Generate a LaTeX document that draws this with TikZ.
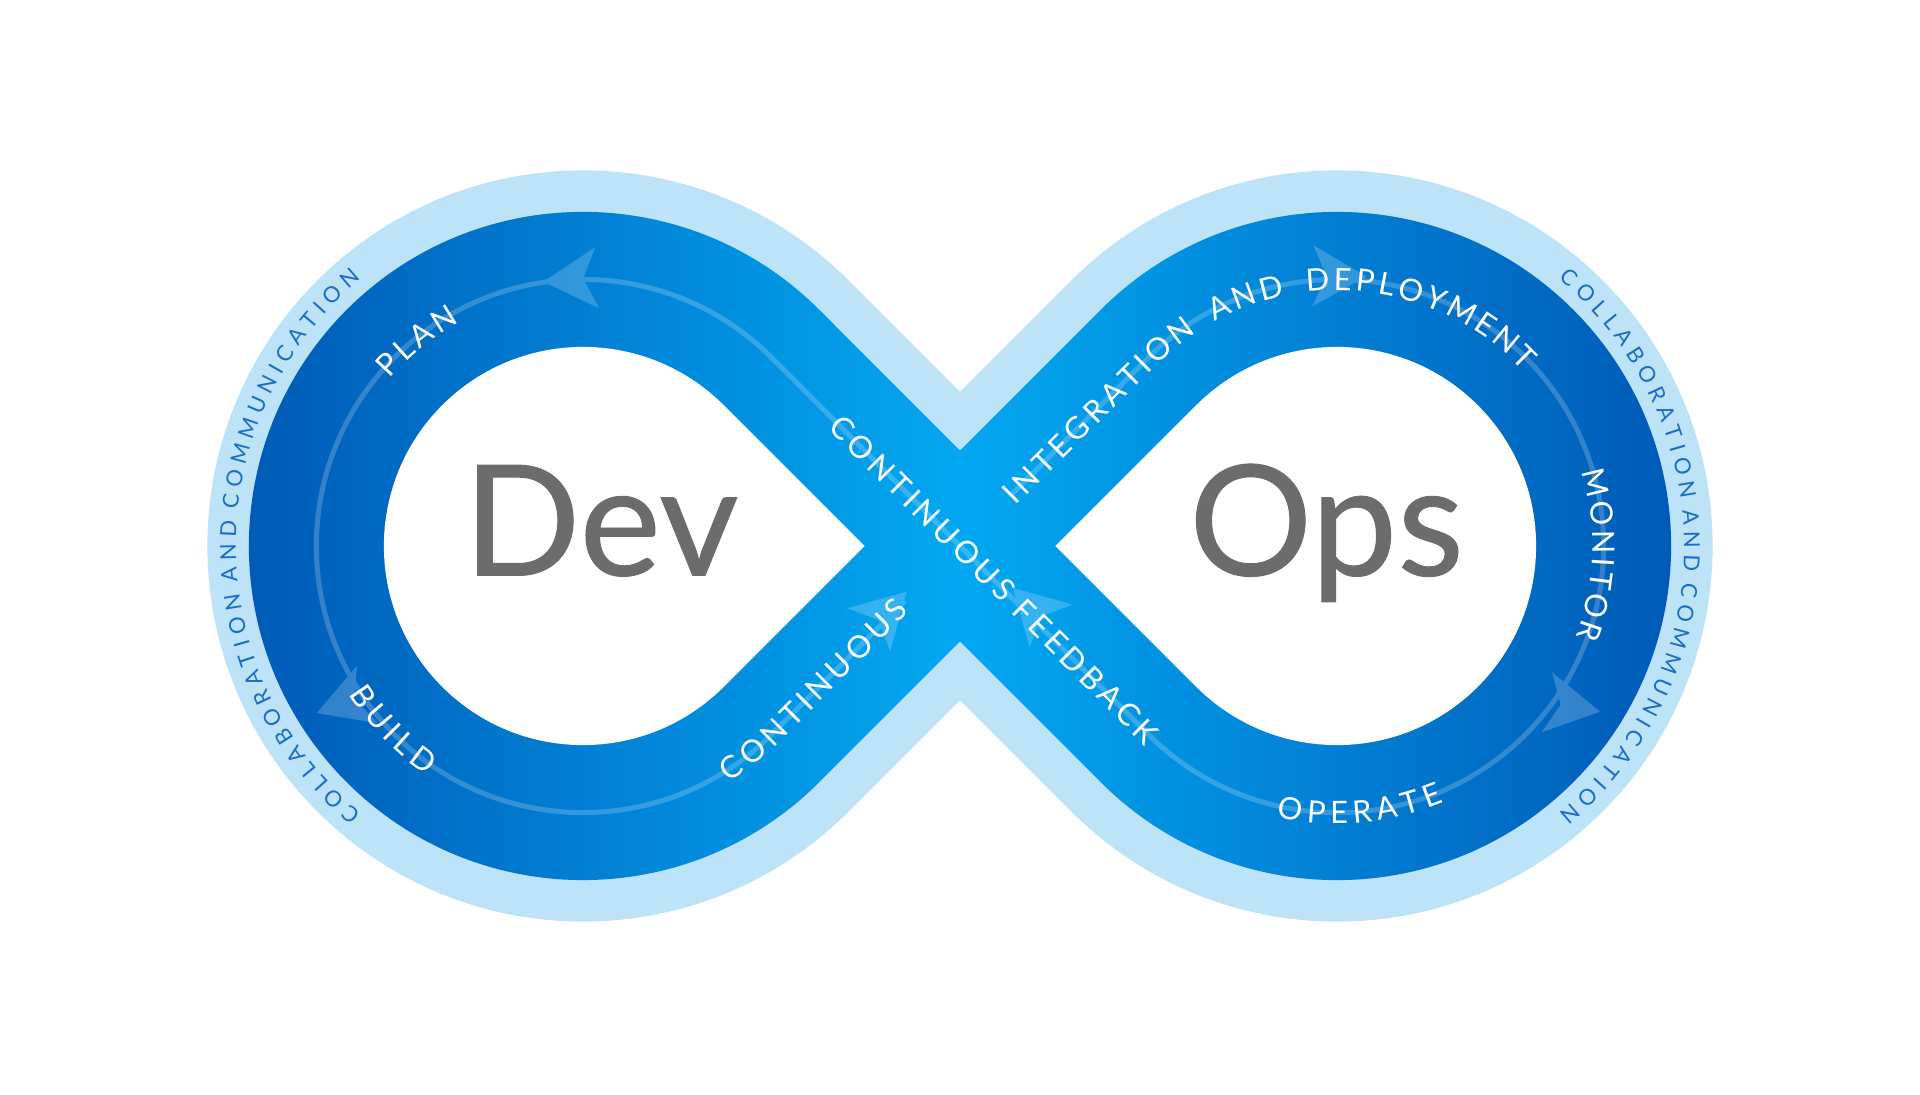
\documentclass[tikz,border=0pt]{standalone}
\usepackage{fontspec}
\setmainfont{Lato}
\usetikzlibrary{decorations.text}
\newfontfamily\stagefont{Lato}
\newfontfamily\collabfont{Lato}
\newfontfamily\wordfont[FakeBold=0.6]{Lato}
\definecolor{bandlight}{RGB}{188,227,248}
\definecolor{banddark}{RGB}{0,87,181}
\definecolor{bandbright}{RGB}{3,168,242}
\definecolor{wordgray}{RGB}{108,108,108}
\definecolor{collabblue}{RGB}{28,108,198}
\newcommand\trackR{266.6}
\newcommand\bandOut{334.1}
\newcommand\bandIn{199.1}
\newcommand\glowOut{375.6}
\newcommand\collabR{355}
\newcommand\tk{\kern2.3pt}% tracking of the stage labels
\newcommand\wk{\kern8pt}% wider word gap
\newcommand\ck{\kern3.3pt}% tracking of the outer ring
\tikzset{
  glow/.style={fill=bandlight},
  band/.style={left color=banddark, right color=banddark, middle color=bandbright},
  hole/.style={fill=white},
  track/.style={draw=white, line width=2.5pt},
  flowhead/.pic={\fill[white] (0,0) -- (-54,30.5) -- (-40,0) -- (-54,-30.5) -- cycle;},
  stagelabel/.style={decorate, decoration={text along path, text align=center,
      raise=-5.5pt, text color=white,
      text={|\stagefont\fontsize{15.4}{18}\selectfont|#1}}},
  collablabel/.style={decorate, decoration={text along path, text align=center,
      raise=-4pt, text color=collabblue,
      text={|\collabfont\fontsize{11}{13}\selectfont|C{\ck}O{\ck}L{\ck}L{\ck}A{\ck}B{\ck}O{\ck}R{\ck}A{\ck}T{\ck}I{\ck}O{\ck}N{\ck} A{\ck}N{\ck}D{\ck} C{\ck}O{\ck}M{\ck}M{\ck}U{\ck}N{\ck}I{\ck}C{\ck}A{\ck}T{\ck}I{\ck}O{\ck}N}}},
  bigword/.style={font=\wordfont\fontsize{77}{77}\selectfont, text=wordgray,
    inner sep=0pt, anchor=base},
}

\begin{document}
\begin{tikzpicture}[x=0.5pt, y=0.5pt]
  \useasboundingbox (-960,-549) rectangle (960,546);
  \fill[white] (-960,-549) rectangle (960,546);
  \coordinate (lc) at (-377,0);
  \coordinate (rc) at (377,0);
  % figure eight: glow, band, holes
  \fill[glow] (0,154.15) -- (111.42,265.58) arc[start angle=135, end angle=-135, radius=\glowOut]
    -- (0,-154.15) -- (-111.42,-265.58) arc[start angle=-45, end angle=-315, radius=\glowOut] -- cycle;
  \shade[band] (0,95.46) -- (140.77,236.23) arc[start angle=135, end angle=-135, radius=\bandOut]
    -- (0,-95.46) -- (-140.77,-236.23) arc[start angle=-45, end angle=-315, radius=\bandOut] -- cycle;
  \fill[hole] (95.46,0) -- (236.23,140.77) arc[start angle=135, end angle=-135, radius=\bandIn] -- cycle;
  \fill[hole] (-95.46,0) -- (-236.23,140.77) arc[start angle=45, end angle=315, radius=\bandIn] -- cycle;
  % track and arrow heads
  \coordinate (nestart) at (50,50);
  \coordinate (swend) at (-55,-55);
  \coordinate (tipTL) at (-416.7,264.3);
  \coordinate (tipTR) at (406.7,269.3);
  \coordinate (tipBL) at (-643.3,-167);
  \coordinate (tipBR) at (640,-165.7);
  \coordinate (tipSW) at (-53.3,-45.7);
  \coordinate (tipSE) at (53,-42);
  \begin{scope}[transparency group, opacity=0.2]
    \draw[track] (nestart) -- (188.5,188.5) arc[start angle=135, end angle=-135, radius=\trackR]
      -- (-188.5,188.5) arc[start angle=45, end angle=315, radius=\trackR] -- (swend);
    \pic[rotate=184] at (tipTL) {flowhead};
    \pic[rotate=-1] at (tipTR) {flowhead};
    \pic[rotate=200] at (tipBL) {flowhead};
    \pic[rotate=-10] at (tipBR) {flowhead};
    \pic[rotate=45] at (tipSW) {flowhead};
    \pic[rotate=135] at (tipSE) {flowhead};
  \end{scope}
  % stage labels
  \path[stagelabel={P{\tk}L{\tk}A{\tk}N}, shift={(lc)}]
    (149:\trackR) arc[start angle=149, end angle=109, radius=\trackR];
  \path[stagelabel={B{\tk}U{\tk}I{\tk}L{\tk}D}, shift={(lc)}]
    (204:\trackR) arc[start angle=204, end angle=244, radius=\trackR];
  \coordinate (swtext) at (-50,-50);
  \path[stagelabel={C{\tk}O{\tk}N{\tk}T{\tk}I{\tk}N{\tk}U{\tk}O{\tk}U{\tk}S}, shift={(lc)}]
    (299.2:\trackR) arc[start angle=299.2, end angle=315, radius=\trackR] -- (swtext);
  \path[stagelabel={C{\tk}O{\tk}N{\tk}T{\tk}I{\tk}N{\tk}U{\tk}O{\tk}U{\tk}S{\tk} F{\tk}E{\tk}E{\tk}D{\tk}B{\tk}A{\tk}C{\tk}K}]
    (-148.5,148.5) -- (216.4,-216.4);
  \path[stagelabel={I{\tk}N{\tk}T{\tk}E{\tk}G{\tk}R{\tk}A{\tk}T{\tk}I{\tk}O{\tk}N{\wk} A{\tk}N{\tk}D{\wk} D{\tk}E{\tk}P{\tk}L{\tk}O{\tk}Y{\tk}M{\tk}E{\tk}N{\tk}T},
      decoration={text align=left}]
    (48,48) -- (188.5,188.5) arc[start angle=135, end angle=10, radius=\trackR];
  \path[stagelabel={M{\tk}O{\tk}N{\tk}I{\tk}T{\tk}O{\tk}R}, shift={(rc)}]
    (23:\trackR) arc[start angle=23, end angle=-27, radius=\trackR];
  \path[stagelabel={O{\tk}P{\tk}E{\tk}R{\tk}A{\tk}T{\tk}E}, shift={(rc)}]
    (-110:\trackR) arc[start angle=-110, end angle=-60, radius=\trackR];
  % collaboration ring
  \path[collablabel, shift={(lc)}] (240:\collabR) arc[start angle=240, end angle=120, radius=\collabR];
  \path[collablabel, shift={(rc)}] (60:\collabR) arc[start angle=60, end angle=-60, radius=\collabR];
  % words
  \node[bigword] (dev) at (-359,-29.5) {Dev};
  \node[bigword] (ops) at (366.5,-29.5) {Ops};
\end{tikzpicture}
\end{document}
